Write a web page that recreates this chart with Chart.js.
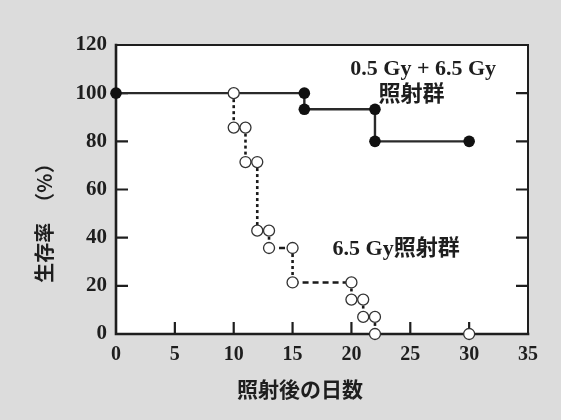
<!DOCTYPE html>
<html>
<head>
<meta charset="utf-8">
<script src="https://cdn.jsdelivr.net/npm/chart.js@4/dist/chart.umd.min.js"></script>
<style>
  html, body { margin: 0; padding: 0; background: #dcdcdc; }
  canvas { display: block; }
</style>
</head>
<body>
<canvas id="c" width="561" height="420"></canvas>
<script>
// ---- data ----
const xTickValues = [0, 5, 10, 15, 20, 25, 30, 35];
const yTickValues = [0, 20, 40, 60, 80, 100, 120];

// 0.5 Gy + 6.5 Gy irradiated group (filled circles, solid line)
const combinedDays     = [0, 16, 16, 22, 22, 30];
const combinedSurvival = [100, 100, 93.3, 93.3, 80, 80];

// 6.5 Gy irradiated group (open circles, dashed line)
const singleDays     = [10, 10, 11, 11, 12, 12, 13, 13, 15, 15, 20, 20, 21, 21, 22, 22];
const singleSurvival = [100, 85.7, 85.7, 71.4, 71.4, 42.9, 42.9, 35.7, 35.7, 21.4, 21.4, 14.3, 14.3, 7.1, 7.1, 0];
const singleExtraDays     = [30];
const singleExtraSurvival = [0];

const xTitle = '照射後の日数';
const yTitle = '生存率　（%）';
const groupLabels = ['0.5 Gy + 6.5 Gy', '照射群', '6.5 Gy照射群'];
const groupLabelAnchors = [[26.1, 110], [25.1, 99], [23.8, 35]];

const toPts = (xs, ys) => xs.map((x, i) => ({ x: x, y: ys[i] }));

const SERIF = '"Liberation Serif", "Times New Roman", serif';
const CJK = '"Noto Sans CJK JP", sans-serif';
const INK = '#1e1e1e';

const framePlugin = {
  id: 'frame',
  beforeDraw(chart) {
    const { ctx, chartArea: a } = chart;
    ctx.save();
    ctx.fillStyle = '#dcdcdc';
    ctx.fillRect(0, 0, chart.width, chart.height);
    ctx.fillStyle = '#ffffff';
    ctx.fillRect(a.left, a.top, a.right - a.left, a.bottom - a.top);
    ctx.restore();
  },
  beforeDatasetsDraw(chart) {
    const { ctx, chartArea: a, scales } = chart;
    ctx.save();
    ctx.strokeStyle = INK;
    ctx.lineCap = 'square';
    ctx.lineWidth = 2;
    ctx.beginPath();
    ctx.moveTo(a.left, a.top); ctx.lineTo(a.right, a.top); ctx.lineTo(a.right, a.bottom);
    ctx.stroke();
    ctx.lineWidth = 2.6;
    ctx.beginPath();
    ctx.moveTo(a.left, a.top); ctx.lineTo(a.left, a.bottom); ctx.lineTo(a.right, a.bottom);
    ctx.stroke();
    ctx.lineWidth = 2.2;
    ctx.lineCap = 'butt';
    const tl = 12;
    ctx.beginPath();
    yTickValues.slice(1, -1).forEach(v => {
      const y = scales.y.getPixelForValue(v);
      ctx.moveTo(a.left, y); ctx.lineTo(a.left + tl, y);
      ctx.moveTo(a.right, y); ctx.lineTo(a.right - tl, y);
    });
    xTickValues.slice(1, -1).forEach(v => {
      const x = scales.x.getPixelForValue(v);
      ctx.moveTo(x, a.bottom); ctx.lineTo(x, a.bottom - tl);
    });
    ctx.stroke();
    ctx.restore();
  },
  afterDatasetsDraw(chart) {
    const { ctx, scales } = chart;
    ctx.save();
    ctx.fillStyle = INK;
    ctx.textAlign = 'center';
    ctx.textBaseline = 'middle';
    groupLabels.forEach((t, i) => {
      const [dx, dy] = groupLabelAnchors[i];
      ctx.font = 'bold 22px ' + SERIF + ', ' + CJK;
      ctx.fillText(t, scales.x.getPixelForValue(dx), scales.y.getPixelForValue(dy));
    });
    // axis titles
    ctx.font = 'bold 21px ' + CJK;
    ctx.fillText(xTitle, 300, 389);
    ctx.translate(44, 218);
    ctx.rotate(-Math.PI / 2);
    ctx.font = 'bold 20px ' + CJK;
    ctx.fillText(yTitle, 0, 0);
    ctx.restore();
  }
};

new Chart(document.getElementById('c'), {
  type: 'scatter',
  data: {
    datasets: [
      {
        label: '6.5 Gy照射群',
        data: toPts(singleDays, singleSurvival),
        showLine: true,
        borderColor: '#1a1a1a',
        borderWidth: 2.6,
        borderDash: [3, 3],
        segment: {
          borderDash: c => (c.p0.parsed.y === c.p1.parsed.y ? [6, 4] : [3, 3])
        },
        pointRadius: 5.5,
        pointBorderWidth: 1.3,
        pointBorderColor: '#333',
        pointBackgroundColor: '#ffffff',
        clip: false
      },
      {
        label: '6.5 Gy照射群 (30日)',
        data: toPts(singleExtraDays, singleExtraSurvival),
        showLine: false,
        pointRadius: 5.5,
        pointBorderWidth: 1.3,
        pointBorderColor: '#333',
        pointBackgroundColor: '#ffffff',
        clip: false
      },
      {
        label: '0.5 Gy + 6.5 Gy照射群',
        data: toPts(combinedDays, combinedSurvival),
        showLine: true,
        borderColor: '#2a2a2a',
        borderWidth: 2.4,
        pointRadius: 5.8,
        pointBorderWidth: 0,
        pointBackgroundColor: '#111111',
        clip: false
      }
    ]
  },
  options: {
    responsive: false,
    animation: false,
    layout: { padding: { top: 45, right: 33, left: 0, bottom: 0 } },
    plugins: { legend: { display: false }, tooltip: { enabled: false } },
    scales: {
      x: {
        type: 'linear',
        min: 0, max: 35,
        afterBuildTicks: s => { s.ticks = xTickValues.map(v => ({ value: v })); },
        afterFit: s => { s.height = 86; },
        grid: { display: false, drawTicks: false },
        border: { display: false },
        ticks: { color: INK, padding: 9, font: { family: SERIF, size: 20, weight: 'bold' } },
        title: { display: false }
      },
      y: {
        type: 'linear',
        min: 0, max: 120,
        afterBuildTicks: s => { s.ticks = yTickValues.map(v => ({ value: v })); },
        afterFit: s => { s.width = 116; },
        grid: { display: false, drawTicks: false },
        border: { display: false },
        ticks: { color: INK, padding: 9, font: { family: SERIF, size: 21, weight: 'bold' } },
        title: { display: false }
      }
    }
  },
  plugins: [framePlugin]
});
</script>
</body>
</html>
